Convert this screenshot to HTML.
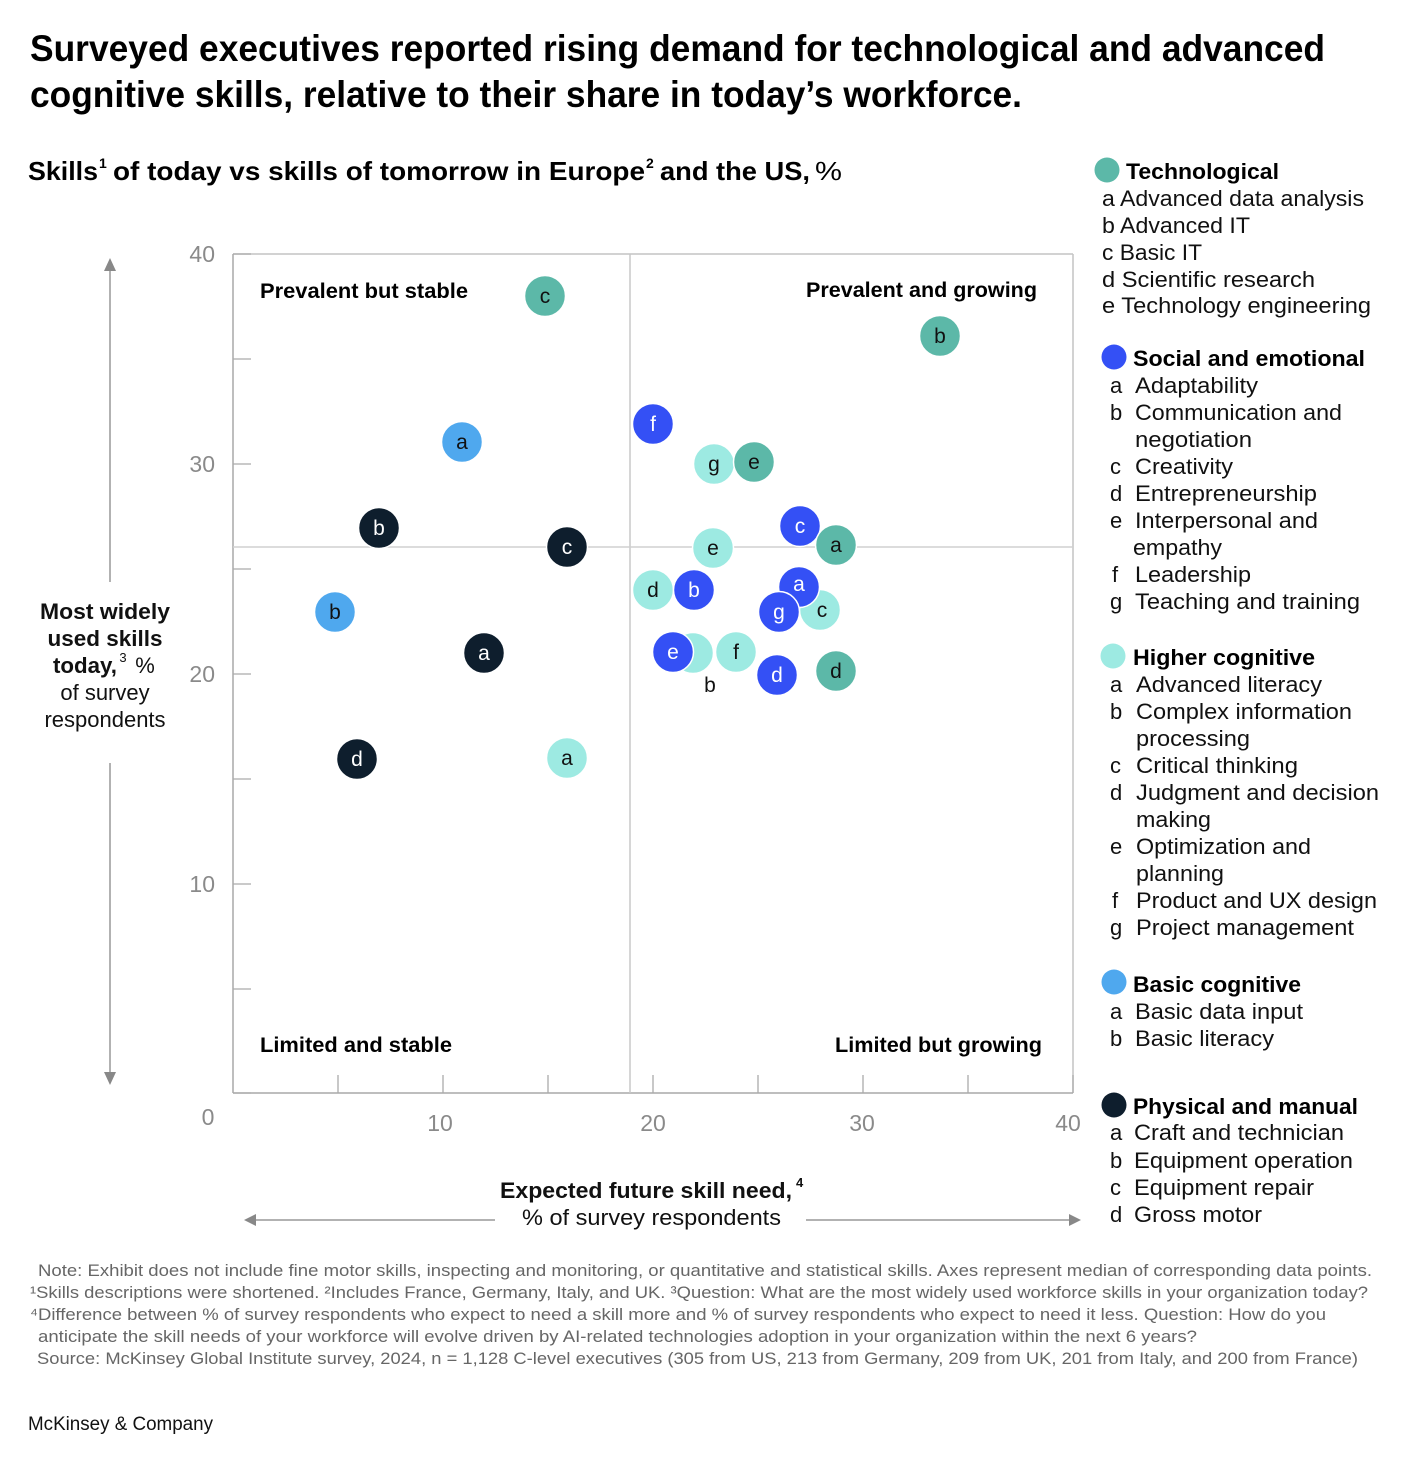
<!DOCTYPE html>
<html><head><meta charset="utf-8">
<style>
html,body{margin:0;padding:0;background:#fff;}
svg{display:block;}
text{font-family:"Liberation Sans",Arial,sans-serif;}
.b{font-weight:bold;}
.tk{fill:#8a8a8a;font-size:23px;}
.lg{font-size:22px;fill:#111;}
.lh{font-size:22px;font-weight:bold;fill:#000;}
.fn{font-size:17px;fill:#666;}
.ct{font-size:21px;text-anchor:middle;}
</style></head>
<body>
<svg width="1404" height="1466" viewBox="0 0 1404 1466" xmlns="http://www.w3.org/2000/svg">
<rect width="1404" height="1466" fill="#fff"/>

<!-- Title -->
<text x="30" y="61" class="b" font-size="37" fill="#000" textLength="1295" lengthAdjust="spacingAndGlyphs">Surveyed executives reported rising demand for technological and advanced</text>
<text x="30" y="107" class="b" font-size="37" fill="#000" textLength="992" lengthAdjust="spacingAndGlyphs">cognitive skills, relative to their share in today’s workforce.</text>

<!-- Subtitle -->
<text x="28" y="180" class="b" font-size="26" fill="#000" textLength="70" lengthAdjust="spacingAndGlyphs">Skills</text>
<text x="99" y="168" class="b" font-size="14" fill="#000">1</text>
<text x="113" y="180" class="b" font-size="26" fill="#000" textLength="532" lengthAdjust="spacingAndGlyphs">of today vs skills of tomorrow in Europe</text>
<text x="646" y="168" class="b" font-size="14" fill="#000">2</text>
<text x="660" y="180" class="b" font-size="26" fill="#000" textLength="150" lengthAdjust="spacingAndGlyphs">and the US,</text>
<text x="815" y="180" font-size="26" fill="#000" textLength="27" lengthAdjust="spacingAndGlyphs">%</text>

<!-- Plot frame -->
<line x1="233" y1="254" x2="1073" y2="254" stroke="#c4c4c4" stroke-width="1.5"/>
<line x1="1073" y1="254" x2="1073" y2="1093" stroke="#c4c4c4" stroke-width="1.5"/>
<line x1="233" y1="254" x2="233" y2="1093" stroke="#a8a8a8" stroke-width="1.5"/>
<line x1="233" y1="1093" x2="1073" y2="1093" stroke="#a8a8a8" stroke-width="1.5"/>
<!-- median lines -->
<line x1="630" y1="254" x2="630" y2="1093" stroke="#c8c8c8" stroke-width="1.5"/>
<line x1="233" y1="547" x2="1073" y2="547" stroke="#d0d0d0" stroke-width="1.5"/>

<!-- y ticks -->
<g stroke="#aaa" stroke-width="1.3">
<line x1="233" y1="254" x2="251" y2="254"/>
<line x1="233" y1="359" x2="251" y2="359"/>
<line x1="233" y1="464" x2="251" y2="464"/>
<line x1="233" y1="569" x2="251" y2="569"/>
<line x1="233" y1="674" x2="251" y2="674"/>
<line x1="233" y1="779" x2="251" y2="779"/>
<line x1="233" y1="884" x2="251" y2="884"/>
<line x1="233" y1="989" x2="251" y2="989"/>
<line x1="233" y1="1093" x2="251" y2="1093"/>
<!-- x ticks -->
<line x1="338" y1="1075" x2="338" y2="1093"/>
<line x1="443" y1="1075" x2="443" y2="1093"/>
<line x1="548" y1="1075" x2="548" y2="1093"/>
<line x1="653" y1="1075" x2="653" y2="1093"/>
<line x1="758" y1="1075" x2="758" y2="1093"/>
<line x1="863" y1="1075" x2="863" y2="1093"/>
<line x1="968" y1="1075" x2="968" y2="1093"/>
<line x1="1073" y1="1075" x2="1073" y2="1093"/>
</g>

<!-- tick labels -->
<text class="tk" x="215" y="262" text-anchor="end">40</text>
<text class="tk" x="215" y="472" text-anchor="end">30</text>
<text class="tk" x="215" y="682" text-anchor="end">20</text>
<text class="tk" x="215" y="892" text-anchor="end">10</text>
<text class="tk" x="208" y="1125" text-anchor="middle">0</text>
<text class="tk" x="440" y="1131" text-anchor="middle">10</text>
<text class="tk" x="653" y="1131" text-anchor="middle">20</text>
<text class="tk" x="862" y="1131" text-anchor="middle">30</text>
<text class="tk" x="1068" y="1131" text-anchor="middle">40</text>

<!-- quadrant labels -->
<text x="260" y="298" class="b" font-size="21" fill="#000" textLength="208" lengthAdjust="spacingAndGlyphs">Prevalent but stable</text>
<text x="806" y="297" class="b" font-size="21" fill="#000" textLength="231" lengthAdjust="spacingAndGlyphs">Prevalent and growing</text>
<text x="260" y="1052" class="b" font-size="21" fill="#000" textLength="192" lengthAdjust="spacingAndGlyphs">Limited and stable</text>
<text x="835" y="1052" class="b" font-size="21" fill="#000" textLength="207" lengthAdjust="spacingAndGlyphs">Limited but growing</text>

<!-- Y axis arrow & label -->
<g stroke="#999" stroke-width="1.5" fill="#888">
<line x1="110" y1="266" x2="110" y2="582"/>
<line x1="110" y1="763" x2="110" y2="1074"/>
</g>
<polygon points="110,258 104,271 116,271" fill="#888"/>
<polygon points="110,1085 104,1072 116,1072" fill="#888"/>
<g font-size="22" fill="#111" text-anchor="middle">
<text x="105" y="619" class="b" textLength="130" lengthAdjust="spacingAndGlyphs">Most widely</text>
<text x="105" y="646" class="b" textLength="115" lengthAdjust="spacingAndGlyphs">used skills</text>
<text x="85" y="673" class="b" textLength="64" lengthAdjust="spacingAndGlyphs">today,</text>
<text x="123" y="662" font-size="13">3</text>
<text x="145" y="673">%</text>
<text x="105" y="700">of survey</text>
<text x="105" y="727">respondents</text>
</g>

<!-- X axis label & arrows -->
<line x1="254" y1="1220" x2="495" y2="1220" stroke="#999" stroke-width="1.5"/>
<polygon points="244,1220 256,1214 256,1226" fill="#888"/>
<line x1="806" y1="1220" x2="1071" y2="1220" stroke="#999" stroke-width="1.5"/>
<polygon points="1081,1220 1069,1214 1069,1226" fill="#888"/>
<text x="500" y="1198" class="b" font-size="22" fill="#111" textLength="292" lengthAdjust="spacingAndGlyphs">Expected future skill need,</text>
<text x="796" y="1187" class="b" font-size="13" fill="#111">4</text>
<text x="522" y="1225" font-size="22" fill="#111" textLength="259" lengthAdjust="spacingAndGlyphs">% of survey respondents</text>

<!-- Data points -->
<g stroke="#fff" stroke-width="1.5">
<!-- Higher cognitive -->
<circle cx="714" cy="464" r="20.5" fill="#9DEAE2"/>
<circle cx="713" cy="548" r="20.5" fill="#9DEAE2"/>
<circle cx="653" cy="590" r="20.5" fill="#9DEAE2"/>
<circle cx="820" cy="610" r="20.5" fill="#9DEAE2"/>
<circle cx="693" cy="653" r="20.5" fill="#9DEAE2"/>
<circle cx="736" cy="652" r="20.5" fill="#9DEAE2"/>
<circle cx="567" cy="758" r="20.5" fill="#9DEAE2"/>
</g>
<g class="ct" fill="#111">
<text class="ct" x="714" y="471">g</text>
<text class="ct" x="713" y="555">e</text>
<text class="ct" x="653" y="597">d</text>
<text class="ct" x="822" y="617">c</text>
<text class="ct" x="736" y="659">f</text>
<text class="ct" x="567" y="765">a</text>
<text class="ct" x="710" y="692">b</text>
</g>

<!-- Social and emotional -->
<g stroke="#fff" stroke-width="1.5" fill="#3450F5">
<circle cx="653" cy="424" r="20.5"/>
<circle cx="800" cy="526" r="20.5"/>
<circle cx="694" cy="590" r="20.5"/>
<circle cx="799" cy="587" r="20.5"/>
<circle cx="779" cy="612" r="20.5"/>
<circle cx="673" cy="652" r="20.5"/>
<circle cx="777" cy="675" r="20.5"/>
</g>
<g fill="#fff">
<text class="ct" x="653" y="431">f</text>
<text class="ct" x="800" y="533">c</text>
<text class="ct" x="694" y="597">b</text>
<text class="ct" x="799" y="591">a</text>
<text class="ct" x="779" y="619">g</text>
<text class="ct" x="673" y="659">e</text>
<text class="ct" x="777" y="682">d</text>
</g>

<!-- Technological -->
<g stroke="#fff" stroke-width="1.5" fill="#5CB8A8">
<circle cx="545" cy="296" r="20.5"/>
<circle cx="940" cy="336" r="20.5"/>
<circle cx="754" cy="462" r="20.5"/>
<circle cx="836" cy="545" r="20.5"/>
<circle cx="836" cy="671" r="20.5"/>
</g>
<g fill="#111">
<text class="ct" x="545" y="303">c</text>
<text class="ct" x="940" y="343">b</text>
<text class="ct" x="754" y="469">e</text>
<text class="ct" x="836" y="552">a</text>
<text class="ct" x="836" y="678">d</text>
</g>

<!-- Basic cognitive -->
<g stroke="#fff" stroke-width="1.5" fill="#4FA8EE">
<circle cx="462" cy="442" r="20.5"/>
<circle cx="335" cy="612" r="20.5"/>
</g>
<g fill="#111">
<text class="ct" x="462" y="449">a</text>
<text class="ct" x="335" y="619">b</text>
</g>

<!-- Physical and manual -->
<g stroke="#fff" stroke-width="1.5" fill="#0E1E2D">
<circle cx="379" cy="528" r="20.5"/>
<circle cx="567" cy="547" r="20.5"/>
<circle cx="484" cy="653" r="20.5"/>
<circle cx="357" cy="759" r="20.5"/>
</g>
<g fill="#fff">
<text class="ct" x="379" y="535">b</text>
<text class="ct" x="567" y="554">c</text>
<text class="ct" x="484" y="660">a</text>
<text class="ct" x="357" y="766">d</text>
</g>

<!-- Legend -->
<circle cx="1107" cy="170" r="12.5" fill="#5CB8A8"/>
<text x="1126" y="179" class="lh" textLength="153" lengthAdjust="spacingAndGlyphs">Technological</text>
<text x="1102" y="206" class="lg" textLength="262" lengthAdjust="spacingAndGlyphs">a Advanced data analysis</text>
<text x="1102" y="233" class="lg" textLength="148" lengthAdjust="spacingAndGlyphs">b Advanced IT</text>
<text x="1102" y="260" class="lg" textLength="100" lengthAdjust="spacingAndGlyphs">c Basic IT</text>
<text x="1102" y="287" class="lg" textLength="213" lengthAdjust="spacingAndGlyphs">d Scientific research</text>
<text x="1102" y="313" class="lg" textLength="269" lengthAdjust="spacingAndGlyphs">e Technology engineering</text>

<circle cx="1114" cy="357" r="12.5" fill="#3450F5"/>
<text x="1133" y="366" class="lh" textLength="232" lengthAdjust="spacingAndGlyphs">Social and emotional</text>
<g class="lg">
<text x="1110" y="393">a</text><text x="1135" y="393" class="lg" textLength="123" lengthAdjust="spacingAndGlyphs">Adaptability</text>
<text x="1110" y="420">b</text><text x="1135" y="420" class="lg" textLength="207" lengthAdjust="spacingAndGlyphs">Communication and</text>
<text x="1135" y="447" class="lg" textLength="117" lengthAdjust="spacingAndGlyphs">negotiation</text>
<text x="1110" y="474">c</text><text x="1135" y="474" class="lg" textLength="98" lengthAdjust="spacingAndGlyphs">Creativity</text>
<text x="1110" y="501">d</text><text x="1135" y="501" class="lg" textLength="182" lengthAdjust="spacingAndGlyphs">Entrepreneurship</text>
<text x="1110" y="528">e</text><text x="1135" y="528" class="lg" textLength="183" lengthAdjust="spacingAndGlyphs">Interpersonal and</text>
<text x="1133" y="555" class="lg" textLength="89" lengthAdjust="spacingAndGlyphs">empathy</text>
<text x="1112" y="582">f</text><text x="1135" y="582" class="lg" textLength="116" lengthAdjust="spacingAndGlyphs">Leadership</text>
<text x="1110" y="609">g</text><text x="1135" y="609" class="lg" textLength="225" lengthAdjust="spacingAndGlyphs">Teaching and training</text>
</g>

<circle cx="1113" cy="656" r="12.5" fill="#9DEAE2"/>
<text x="1133" y="665" class="lh" textLength="182" lengthAdjust="spacingAndGlyphs">Higher cognitive</text>
<g class="lg">
<text x="1110" y="692">a</text><text x="1136" y="692" class="lg" textLength="186" lengthAdjust="spacingAndGlyphs">Advanced literacy</text>
<text x="1110" y="719">b</text><text x="1136" y="719" class="lg" textLength="216" lengthAdjust="spacingAndGlyphs">Complex information</text>
<text x="1136" y="746" class="lg" textLength="114" lengthAdjust="spacingAndGlyphs">processing</text>
<text x="1110" y="773">c</text><text x="1136" y="773" class="lg" textLength="162" lengthAdjust="spacingAndGlyphs">Critical thinking</text>
<text x="1110" y="800">d</text><text x="1136" y="800" class="lg" textLength="243" lengthAdjust="spacingAndGlyphs">Judgment and decision</text>
<text x="1136" y="827" class="lg" textLength="75" lengthAdjust="spacingAndGlyphs">making</text>
<text x="1110" y="854">e</text><text x="1136" y="854" class="lg" textLength="175" lengthAdjust="spacingAndGlyphs">Optimization and</text>
<text x="1136" y="881" class="lg" textLength="88" lengthAdjust="spacingAndGlyphs">planning</text>
<text x="1112" y="908">f</text><text x="1136" y="908" class="lg" textLength="241" lengthAdjust="spacingAndGlyphs">Product and UX design</text>
<text x="1110" y="935">g</text><text x="1136" y="935" class="lg" textLength="218" lengthAdjust="spacingAndGlyphs">Project management</text>
</g>

<circle cx="1114" cy="982" r="12.5" fill="#4FA8EE"/>
<text x="1133" y="992" class="lh" textLength="168" lengthAdjust="spacingAndGlyphs">Basic cognitive</text>
<g class="lg">
<text x="1110" y="1019">a</text><text x="1135" y="1019" class="lg" textLength="168" lengthAdjust="spacingAndGlyphs">Basic data input</text>
<text x="1110" y="1046">b</text><text x="1135" y="1046" class="lg" textLength="139" lengthAdjust="spacingAndGlyphs">Basic literacy</text>
</g>

<circle cx="1114" cy="1105" r="12.5" fill="#0E1E2D"/>
<text x="1133" y="1114" class="lh" textLength="225" lengthAdjust="spacingAndGlyphs">Physical and manual</text>
<g class="lg">
<text x="1110" y="1140">a</text><text x="1134" y="1140" class="lg" textLength="210" lengthAdjust="spacingAndGlyphs">Craft and technician</text>
<text x="1110" y="1168">b</text><text x="1134" y="1168" class="lg" textLength="219" lengthAdjust="spacingAndGlyphs">Equipment operation</text>
<text x="1110" y="1195">c</text><text x="1134" y="1195" class="lg" textLength="180" lengthAdjust="spacingAndGlyphs">Equipment repair</text>
<text x="1110" y="1222">d</text><text x="1134" y="1222" class="lg" textLength="128" lengthAdjust="spacingAndGlyphs">Gross motor</text>
</g>

<!-- Footnotes -->
<text class="fn" x="38" y="1276" textLength="1334" lengthAdjust="spacingAndGlyphs">Note: Exhibit does not include fine motor skills, inspecting and monitoring, or quantitative and statistical skills. Axes represent median of corresponding data points.</text>
<text class="fn" x="30" y="1298" textLength="1338" lengthAdjust="spacingAndGlyphs">¹Skills descriptions were shortened. ²Includes France, Germany, Italy, and UK. ³Question: What are the most widely used workforce skills in your organization today?</text>
<text class="fn" x="30" y="1320" textLength="1296" lengthAdjust="spacingAndGlyphs">⁴Difference between % of survey respondents who expect to need a skill more and % of survey respondents who expect to need it less. Question: How do you</text>
<text class="fn" x="38" y="1342" textLength="1159" lengthAdjust="spacingAndGlyphs">anticipate the skill needs of your workforce will evolve driven by AI-related technologies adoption in your organization within the next 6 years?</text>
<text class="fn" x="37" y="1364" textLength="1321" lengthAdjust="spacingAndGlyphs">Source: McKinsey Global Institute survey, 2024, n = 1,128 C-level executives (305 from US, 213 from Germany, 209 from UK, 201 from Italy, and 200 from France)</text>

<text x="28" y="1430" font-size="19" fill="#111" textLength="185" lengthAdjust="spacingAndGlyphs">McKinsey &amp; Company</text>
</svg>
</body></html>
